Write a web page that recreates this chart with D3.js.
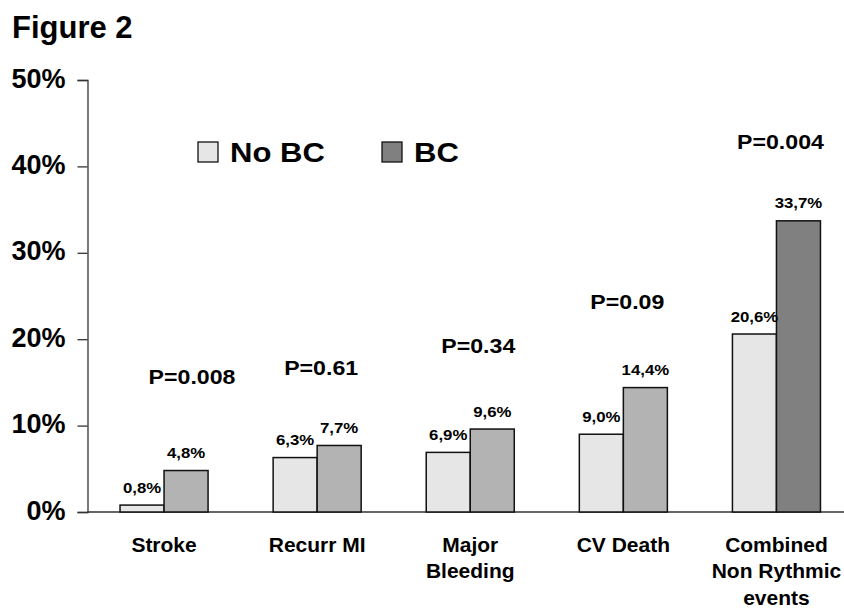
<!DOCTYPE html>
<html>
<head>
<meta charset="utf-8">
<script src="https://cdn.jsdelivr.net/npm/d3@7"></script>
<style>
  body { margin: 0; background: #fff; }
  text { font-family: "Liberation Sans", Arial, sans-serif; font-weight: bold; fill: #000; }
</style>
</head>
<body>
<svg id="chart"></svg>
<script>
// data
let categories = [["Stroke"], ["Recurr MI"], ["Major", "Bleeding"], ["CV Death"], ["Combined", "Non Rythmic", "events"]];
let seriesNames = ["No BC", "BC"];
let noBC = [0.8, 6.3, 6.9, 9.0, 20.6];
let bc = [4.8, 7.7, 9.6, 14.4, 33.7];
let pValues = ["P=0.008", "P=0.61", "P=0.34", "P=0.09", "P=0.004"];
let pLabelAt = [14.8, 15.9, 18.4, 23.5, 42.0];   // height (in %) where each P label sits
let yTicks = [0, 10, 20, 30, 40, 50];

let width = 844, height = 609;
let svg = d3.select("#chart")
    .attr("width", width)
    .attr("height", height);

let padding = { top: 80, bottom: 97, left: 87.5 };

let xScale = d3.scaleBand()
    .domain(d3.range(categories.length))
    .range([padding.left, padding.left + 5 * 153.1])
    .paddingInner(0.425)
    .paddingOuter(0.2125);

let xSub = d3.scaleBand()
    .domain(seriesNames)
    .range([0, xScale.bandwidth()]);

let yScale = d3.scaleLinear()
    .domain([0, 50])
    .range([height - padding.bottom, padding.top]);

let fillFor = (s, i) => s === "No BC" ? "#e6e6e6" : (i === 4 ? "#808080" : "#b3b3b3");

// stretched text helper (the original glyphs are a bit wider than Arial)
function stretch(sel, sx) {
    sel.attr("transform", function() {
        let x = +d3.select(this).attr("data-x"), y = +d3.select(this).attr("data-y");
        return `translate(${x},${y}) scale(${sx},1)`;
    });
}

// title
svg.append("text")
    .attr("x", 12)
    .attr("y", 38)
    .style("font-size", "31px")
    .text("Figure 2");

// y axis
let yAxis = d3.axisLeft(yScale)
    .tickValues(yTicks)
    .tickSize(10)
    .tickPadding(12)
    .tickFormat(d => d + "%");

let gy = svg.append("g")
    .attr("transform", `translate(${padding.left},0)`)
    .call(yAxis);
gy.selectAll("path, line").attr("stroke", "#333").attr("stroke-width", 1.3);
gy.selectAll("text")
    .attr("dy", "0.26em")
    .style("font-size", "27px")
    .style("font-family", "'Liberation Sans', Arial, sans-serif")
    .style("font-weight", "bold")
    .attr("fill", "#000");

// x baseline
svg.append("line")
    .attr("x1", padding.left)
    .attr("x2", width)
    .attr("y1", yScale(0))
    .attr("y2", yScale(0))
    .attr("stroke", "#333")
    .attr("stroke-width", 1.3);

// bars
let rows = categories.map((c, i) => ({ i: i, values: [
    { s: "No BC", v: noBC[i] },
    { s: "BC", v: bc[i] }
]}));

let groups = svg.selectAll(".grp")
    .data(rows)
    .enter()
    .append("g")
    .classed("grp", true)
    .attr("transform", d => `translate(${xScale(d.i)},0)`);

groups.selectAll("rect")
    .data(d => d.values.map(v => Object.assign({ i: d.i }, v)))
    .enter()
    .append("rect")
    .attr("x", d => xSub(d.s))
    .attr("width", xSub.bandwidth())
    .attr("y", d => yScale(d.v))
    .attr("height", d => yScale(0) - yScale(d.v))
    .attr("fill", d => fillFor(d.s, d.i))
    .attr("stroke", "#111")
    .attr("stroke-width", 1.5);

// value labels
groups.selectAll(".val")
    .data(d => d.values)
    .enter()
    .append("text")
    .classed("val", true)
    .attr("data-x", d => xSub(d.s) + xSub.bandwidth() / 2)
    .attr("data-y", d => yScale(d.v) - 12.5)
    .attr("text-anchor", "middle")
    .style("font-size", "15px")
    .text(d => d.v.toFixed(1).replace(".", ",") + "%")
    .call(stretch, 1.12);

// P value labels
groups.append("text")
    .attr("data-x", d => xScale.bandwidth() / 2 + (d.i === 0 ? 28 : (d.i === 2 ? 8 : 4)))
    .attr("data-y", d => yScale(pLabelAt[d.i]))
    .attr("text-anchor", "middle")
    .style("font-size", "20.5px")
    .text(d => pValues[d.i])
    .call(stretch, 1.13);

// category labels
groups.append("text")
    .attr("data-x", xScale.bandwidth() / 2)
    .attr("data-y", 552)
    .attr("text-anchor", "middle")
    .style("font-size", "20px")
    .each(function(d) {
        d3.select(this).selectAll("tspan")
            .data(categories[d.i])
            .enter()
            .append("tspan")
            .attr("x", 0)
            .attr("dy", (t, j) => j === 0 ? 0 : 26.3)
            .text(t => t);
    })
    .call(stretch, 1.05);

// legend
let legend = svg.append("g");
let legendX = [198, 382];
seriesNames.forEach((s, i) => {
    legend.append("rect")
        .attr("x", legendX[i])
        .attr("y", 142)
        .attr("width", 20)
        .attr("height", 20)
        .attr("fill", i === 0 ? "#e6e6e6" : "#808080")
        .attr("stroke", "#111")
        .attr("stroke-width", 1.3);
    legend.append("text")
        .attr("data-x", legendX[i] + 32)
        .attr("data-y", 162)
        .style("font-size", "27px")
        .text(s)
        .call(stretch, 1.15);
});
</script>
</body>
</html>
